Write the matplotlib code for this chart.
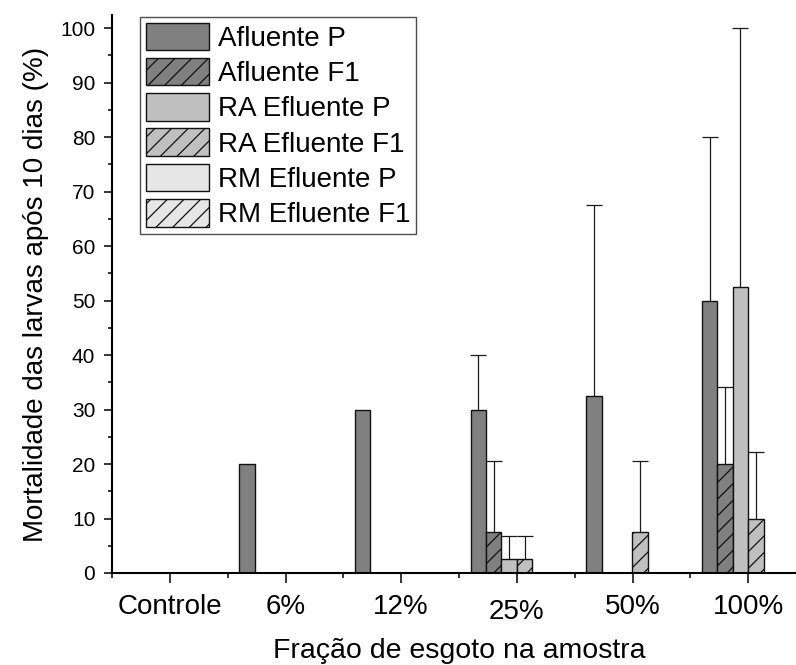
import numpy as np
import matplotlib
matplotlib.use("Agg")
import matplotlib.pyplot as plt
from matplotlib.ticker import MultipleLocator, FixedLocator
from matplotlib.transforms import ScaledTranslation

plt.rcParams['font.family'] = ['Liberation Sans', 'DejaVu Sans']
plt.rcParams['hatch.linewidth'] = 0.9

categories = ["Controle", "6%", "12%", "25%", "50%", "100%"]
series_names = ["Afluente P", "Afluente F1", "RA Efluente P", "RA Efluente F1",
                "RM Efluente P", "RM Efluente F1"]

afluente_p = [0, 20, 30, 30, 32.5, 50]
afluente_f1 = [0, 0, 0, 7.5, 0, 20]
ra_p = [0, 0, 0, 2.5, 0, 52.5]
ra_f1 = [0, 0, 0, 2.5, 7.5, 10]
rm_p = [0, 0, 0, 0, 0, 0]
rm_f1 = [0, 0, 0, 0, 0, 0]

err_afluente_p = [0, 0, 0, 10, 35, 30]
err_afluente_f1 = [0, 0, 0, 13, 0, 14.2]
err_ra_p = [0, 0, 0, 4.3, 0, 47.5]
err_ra_f1 = [0, 0, 0, 4.3, 13, 12.2]
err_rm_p = [0, 0, 0, 0, 0, 0]
err_rm_f1 = [0, 0, 0, 0, 0, 0]

values = [afluente_p, afluente_f1, ra_p, ra_f1, rm_p, rm_f1]
errors = [err_afluente_p, err_afluente_f1, err_ra_p, err_ra_f1, err_rm_p, err_rm_f1]
colors = ["#808080", "#808080", "#c0c0c0", "#c0c0c0", "#e6e6e6", "#e6e6e6"]
hatches = [None, "//", None, "//", None, "//"]

fig = plt.figure(figsize=(7.96, 6.65), dpi=100)
W, H = 796, 665
ax = fig.add_axes([112 / W, 1 - 573 / H, 694 / W, (573 - 15) / H])

x = np.arange(len(categories))
n = len(values)
group = 0.8
bw = group / n

handles = []
for i in range(n):
    xpos = x - group / 2 + bw * (i + 0.5)
    v = np.array(values[i], dtype=float)
    e = np.array(errors[i], dtype=float)
    bars = ax.bar(xpos, v, width=bw, color=colors[i], edgecolor="#111111",
                  linewidth=1.0, hatch=hatches[i], label=series_names[i], zorder=2)
    handles.append(bars)
    mask = e > 0
    if mask.any():
        eb = ax.errorbar(xpos[mask], v[mask],
                         yerr=[np.zeros(mask.sum()), e[mask]],
                         fmt="none", ecolor="#1a1a1a", elinewidth=0.9,
                         capsize=6, capthick=0.9, zorder=3)
        caps = eb[1]
        if len(caps) == 2:
            caps[0].set_visible(False)

ax.set_xlim(-0.5, 5.5)
ax.set_ylim(0, 102.4)

ax.set_xticks(x)
ax.set_xticklabels(categories, fontsize=20)
ax.xaxis.set_minor_locator(FixedLocator(np.arange(-0.5, 6.0, 1.0)))
ax.yaxis.set_major_locator(MultipleLocator(10))
ax.yaxis.set_minor_locator(MultipleLocator(5))
ax.tick_params(axis="y", labelsize=15)

ax.tick_params(axis="x", which="major", direction="out", length=7, width=1.1, pad=8)
ax.tick_params(axis="x", which="minor", direction="out", length=3.5, width=1.1)
ax.tick_params(axis="y", which="major", direction="out", length=6, width=1.1, pad=6)
ax.tick_params(axis="y", which="minor", direction="out", length=3, width=1.1)

# the "25%" label sits a little lower in the original
lbl = ax.get_xticklabels()[3]
lbl.set_transform(lbl.get_transform() + ScaledTranslation(0, -0.05, fig.dpi_scale_trans))

for s in ["top", "right"]:
    ax.spines[s].set_visible(False)
for s in ["left", "bottom"]:
    ax.spines[s].set_linewidth(1.5)

ax.set_xlabel("Fração de esgoto na amostra", fontsize=20.5)
ax.xaxis.set_label_coords(0.5, (573 - 638) / (573 - 15))
ax.set_ylabel("Mortalidade das larvas após 10 dias (%)", fontsize=20, labelpad=8)

leg = ax.legend(handles=handles, loc="upper left",
                bbox_to_anchor=(140 / W, 1 - 17 / H), bbox_transform=fig.transFigure,
                fontsize=20, frameon=True, fancybox=False, shadow=False,
                handlelength=2.3, handleheight=1.15, labelspacing=0.22,
                handletextpad=0.32, borderpad=0.2, borderaxespad=0)
leg.get_frame().set_edgecolor("#222222")
leg.get_frame().set_linewidth(1.0)

fig.savefig("out.png", dpi=100)
